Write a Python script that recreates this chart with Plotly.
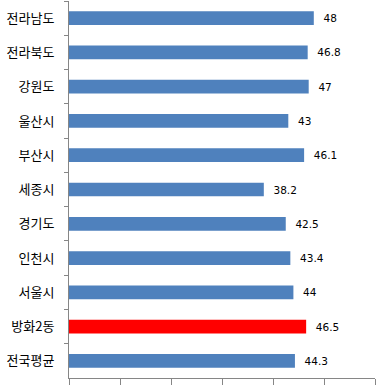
import plotly.graph_objects as go

categories = ["전라남도", "전라북도", "강원도", "울산시", "부산시", "세종시",
              "경기도", "인천시", "서울시", "방화2동", "전국평균"]
values = [48, 46.8, 47, 43, 46.1, 38.2, 42.5, 43.4, 44, 46.5, 44.3]
highlight = "방화2동"

colors = ["#FF0000" if c == highlight else "#4F81BD" for c in categories]
labels = ["  " + (f"{v:g}") for v in values]

fig = go.Figure(go.Bar(
    x=values, y=categories, orientation="h",
    marker=dict(color=colors, line=dict(width=0)),
    text=labels, textposition="outside", cliponaxis=False,
    textfont=dict(family="DejaVu Sans", size=10.5, color="#000000"),
    hoverinfo="skip",
))

fig.update_layout(
    width=392, height=388,
    margin=dict(l=69, r=17, t=1, b=10, autoexpand=False),
    paper_bgcolor="white", plot_bgcolor="white",
    bargap=0.6, showlegend=False, hovermode=False,
    font=dict(family="Noto Sans CJK KR", size=13, color="#000000"),
)
fig.update_xaxes(
    range=[0, 60], dtick=10, showticklabels=False, showgrid=False, zeroline=False,
    showline=True, linecolor="#868686", linewidth=1, automargin=False,
    ticks="outside", ticklen=6, tickcolor="#868686",
)
fig.update_yaxes(
    autorange="reversed", showgrid=False, zeroline=False, automargin=False,
    showline=True, linecolor="#868686", linewidth=1,
    ticks="outside", ticklen=4, tickcolor="#868686", tickson="boundaries",
    ticklabelstandoff=11,
    tickfont=dict(family="Noto Sans CJK KR", size=13, color="#000000"),
)

fig.write_html(
    "out.html",
    config={"displayModeBar": False, "staticPlot": True},
    post_script="document.body.style.margin='0';document.body.style.overflow='hidden';",
)
